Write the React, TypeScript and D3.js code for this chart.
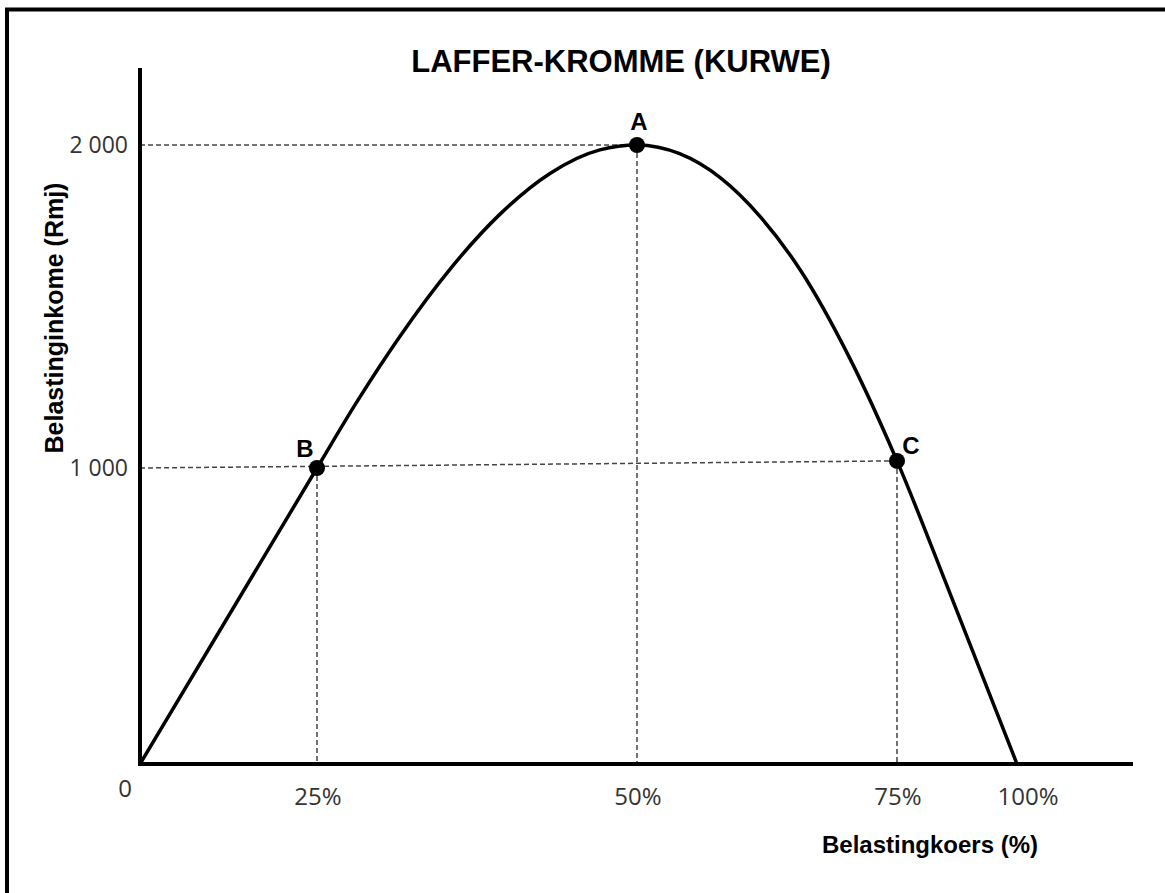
import * as d3 from 'd3';
import React from 'react';

// tax rate (%) vs tax revenue (Rm)
const rateTicks = [25, 50, 75, 100];
const rateLabels = ['25%', '50%', '75%', '100%'];
const revenueTicks = [1000, 2000];
const revenueLabels = ['1 000', '2 000'];

const curveRate = [0, 25, 28.1, 31.5, 35.4, 39.3, 43.2, 47.1, 50, 54.1, 58, 61.8, 65.7, 70.5, 75, 86, 100];
const curveRevenue = [0, 1000, 1204, 1409, 1616, 1786, 1912, 1985, 2000, 1973, 1899, 1780, 1613, 1337, 1022, 578, 0];

const pointNames = ['A', 'B', 'C'];
const pointRate = [50, 25, 75];
const pointRevenue = [2000, 1000, 1022];

const W = 1165;
const H = 893;

// the drawing is not to scale, so both axes are piecewise linear
const x = d3.scaleLinear().domain([0, 25, 50, 75, 100]).range([140, 317, 637, 897, 1017]);
const y = d3.scaleLinear().domain([0, 1000, 2000]).range([764, 468, 145]);

const line = d3.line<number>()
  .x(i => x(curveRate[i]))
  .y(i => y(curveRevenue[i]))
  .curve(d3.curveMonotoneX);

const bold = 'Liberation Sans, Arial, sans-serif';
const light = 'Open Sans, sans-serif';

export default function App() {
  const p = pointNames.map((name, i) => ({ name, cx: x(pointRate[i]), cy: y(pointRevenue[i]) }));
  const dash = { stroke: '#444', strokeWidth: 1.5, strokeDasharray: '5,3' };
  const labelPos: Record<string, [number, number]> = {
    A: [2, -15],
    B: [-12, -11],
    C: [14, -7],
  };

  return (
    <svg width={W} height={H} style={{ position: 'absolute', left: 0, top: 0, background: '#fff' }}>
      {/* frame */}
      <line x1={5} x2={W} y1={9.5} y2={9.5} stroke="#000" strokeWidth={4} />
      <line x1={7} x2={7} y1={8} y2={H} stroke="#000" strokeWidth={4} />

      <text x={621} y={72} textAnchor="middle" fontFamily={bold} fontWeight="bold" fontSize={31}>
        LAFFER-KROMME (KURWE)
      </text>

      {/* guide lines */}
      <line x1={x(0)} x2={p[0].cx} y1={y(2000)} y2={y(2000)} {...dash} />
      <line x1={p[0].cx} x2={p[0].cx} y1={p[0].cy} y2={y(0)} {...dash} />
      <line x1={x(0)} x2={p[2].cx} y1={y(1000)} y2={p[2].cy} {...dash} />
      <line x1={p[1].cx} x2={p[1].cx} y1={p[1].cy} y2={y(0)} {...dash} />
      <line x1={p[2].cx} x2={p[2].cx} y1={p[2].cy} y2={y(0)} {...dash} />

      {/* axes */}
      <line x1={x(0)} x2={x(0)} y1={68} y2={y(0) + 2} stroke="#000" strokeWidth={4} />
      <line x1={x(0) - 2} x2={1133} y1={y(0)} y2={y(0)} stroke="#000" strokeWidth={4} />

      <path d={line(d3.range(curveRate.length)) || ''} fill="none" stroke="#000" strokeWidth={3.5} />

      {p.map(d => (
        <g key={d.name}>
          <circle cx={d.cx} cy={d.cy} r={8} fill="#000" />
          <text
            x={d.cx + labelPos[d.name][0]}
            y={d.cy + labelPos[d.name][1]}
            textAnchor="middle"
            fontFamily={bold}
            fontWeight="bold"
            fontSize={24}
          >
            {d.name}
          </text>
        </g>
      ))}

      {revenueTicks.map((t, i) => (
        <text key={t} x={128} y={y(t)} dy="0.36em" textAnchor="end" fontFamily={light} fontSize={23} fill="#333">
          {revenueLabels[i]}
        </text>
      ))}
      <text x={125} y={797} textAnchor="middle" fontFamily={light} fontSize={24} fill="#333">0</text>
      {rateTicks.map((t, i) => (
        <text key={t} x={x(t) + (t === 100 ? 11 : 1)} y={805} textAnchor="middle" fontFamily={light} fontSize={24} fill="#333">
          {rateLabels[i]}
        </text>
      ))}

      <text x={930} y={853} textAnchor="middle" fontFamily={bold} fontWeight="bold" fontSize={24}>
        Belastingkoers (%)
      </text>
      <text
        transform="translate(63,318) rotate(-90)"
        textAnchor="middle"
        fontFamily={bold}
        fontWeight="bold"
        fontSize={25}
      >
        Belastinginkome (Rmj)
      </text>
    </svg>
  );
}
